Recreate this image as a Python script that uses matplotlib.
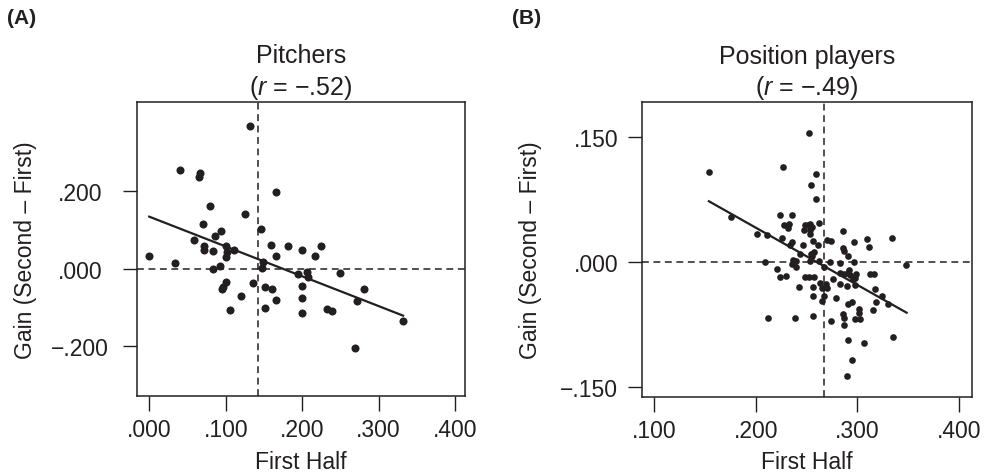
import matplotlib
matplotlib.use("Agg")
import matplotlib.pyplot as plt

plt.rcParams['font.family'] = ['Liberation Sans', 'DejaVu Sans']
plt.rcParams['mathtext.fontset'] = 'custom'
plt.rcParams['mathtext.it'] = 'Liberation Sans:italic'
plt.rcParams['mathtext.rm'] = 'Liberation Sans'

INK = '#231f20'

# ---- Panel A: Pitchers ----
pitch_first = [0.132,0.040,0.067,0.065,0.166,0.079,0.125,0.070,0.146,0.094,
               0.086,0.059,0.071,0.071,0.083,0.100,0.102,0.100,0.111,0.000,
               0.034,0.083,0.092,0.149,0.148,0.159,0.182,0.200,0.166,0.225,
               0.217,0.194,0.206,0.208,0.249,0.100,0.097,0.095,0.136,0.152,
               0.161,0.200,0.281,0.120,0.166,0.200,0.272,0.105,0.152,0.200,
               0.232,0.239,0.332,0.269]
pitch_gain = [0.370,0.255,0.248,0.237,0.198,0.162,0.143,0.115,0.103,0.098,
              0.086,0.075,0.060,0.050,0.046,0.058,0.043,0.030,0.049,0.034,
              0.016,0.000,0.007,0.017,0.002,0.062,0.059,0.050,0.034,0.060,
              0.033,-0.012,-0.007,-0.022,-0.010,-0.033,-0.047,-0.052,-0.035,-0.046,
              -0.051,-0.043,-0.052,-0.071,-0.080,-0.076,-0.082,-0.105,-0.102,-0.114,
              -0.103,-0.108,-0.134,-0.204]
pitch_fit_x = [0.000, 0.332]
pitch_fit_y = [0.135, -0.1205]
pitch_mean_x = 0.1425
pitch_xticks = [0.0, 0.1, 0.2, 0.3, 0.4]
pitch_xlabels = ['.000', '.100', '.200', '.300', '.400']
pitch_yticks = [-0.2, 0.0, 0.2]
pitch_ylabels = ['\u2212.200', '.000', '.200']

# ---- Panel B: Position players ----
pos_first = [0.252,0.154,0.227,0.259,0.254,0.259,0.176,0.224,0.236,0.228,
             0.233,0.232,0.249,0.251,0.253,0.255,0.248,0.253,0.253,0.262,
             0.201,0.211,0.226,0.236,0.234,0.247,0.256,0.261,0.270,0.274,
             0.286,0.310,0.297,0.311,0.334,0.286,0.287,0.291,0.244,0.254,
             0.257,0.255,0.209,0.237,0.240,0.236,0.240,0.253,0.262,0.267,
             0.273,0.283,0.297,0.348,0.221,0.224,0.230,0.249,0.252,0.257,
             0.263,0.269,0.265,0.270,0.276,0.283,0.287,0.292,0.291,0.293,
             0.299,0.298,0.296,0.312,0.316,0.283,0.290,0.298,0.243,0.256,
             0.317,0.324,0.318,0.330,0.256,0.267,0.265,0.279,0.291,0.295,
             0.302,0.302,0.315,0.212,0.239,0.256,0.274,0.286,0.287,0.287,
             0.298,0.303,0.335,0.291,0.307,0.295,0.290]
pos_gain = [0.155,0.108,0.114,0.106,0.093,0.076,0.054,0.057,0.057,0.044,
            0.046,0.041,0.044,0.045,0.046,0.042,0.039,0.039,0.034,0.047,
            0.034,0.033,0.029,0.024,0.020,0.020,0.025,0.021,0.026,0.025,
            0.037,0.028,0.024,0.018,0.029,0.017,0.013,0.007,0.010,0.010,
            0.012,0.007,0.000,0.002,0.001,-0.003,-0.006,0.001,0.001,-0.006,
            0.000,-0.001,0.000,-0.004,-0.009,-0.018,-0.017,-0.018,-0.018,-0.018,
            -0.025,-0.026,-0.031,-0.031,-0.021,-0.013,-0.014,-0.010,-0.013,-0.016,
            -0.014,-0.019,-0.021,-0.014,-0.014,-0.027,-0.029,-0.028,-0.030,-0.030,
            -0.033,-0.041,-0.048,-0.050,-0.041,-0.041,-0.047,-0.043,-0.050,-0.048,
            -0.056,-0.061,-0.058,-0.067,-0.067,-0.065,-0.071,-0.063,-0.067,-0.076,
            -0.069,-0.069,-0.090,-0.094,-0.098,-0.118,-0.137]
pos_fit_x = [0.154, 0.3485]
pos_fit_y = [0.073, -0.061]
pos_mean_x = 0.267
pos_xticks = [0.1, 0.2, 0.3, 0.4]
pos_xlabels = ['.100', '.200', '.300', '.400']
pos_yticks = [-0.15, 0.0, 0.15]
pos_ylabels = ['\u2212.150', '.000', '.150']

fig = plt.figure(figsize=(9.9, 4.77), dpi=100)
axA = fig.add_axes([137/990, 1-397/477, 328/990, 294/477])
axB = fig.add_axes([641.7/990, 1-397.7/477, 330/990, 294.4/477])

def style(ax, xt, xl, yt, yl, xlim, ylim, ypad, yha):
    ax.set_xlim(*xlim)
    ax.set_ylim(*ylim)
    ax.set_xticks(xt)
    ax.set_xticklabels(xl)
    ax.set_yticks(yt)
    ax.set_yticklabels(yl)
    for s in ax.spines.values():
        s.set_linewidth(1.1)
        s.set_color(INK)
    ax.tick_params(axis='x', direction='out', length=11, width=1.0,
                   pad=5, labelsize=16.5, colors=INK)
    ax.tick_params(axis='y', direction='out', length=10, width=1.0,
                   pad=ypad, labelsize=16.5, colors=INK)
    for lab in ax.get_yticklabels():
        lab.set_ha(yha)
    ax.set_xlabel('First Half', fontsize=16.5, color=INK, labelpad=6)
    ax.set_ylabel('Gain (Second \u2013 First)', fontsize=16.5, color=INK)

# Panel A
axA.axhline(0, color=INK, lw=1.1, ls=(0, (4.5, 3)))
axA.axvline(pitch_mean_x, color=INK, lw=1.1, ls=(0, (4.5, 3)))
axA.plot(pitch_first, pitch_gain, 'o', ms=5.8, color=INK, mec='none')
axA.plot(pitch_fit_x, pitch_fit_y, '-', color=INK, lw=1.6)
style(axA, pitch_xticks, pitch_xlabels, pitch_yticks, pitch_ylabels,
      (-0.016, 0.413), (-0.328, 0.431), 31, 'center')
axA.yaxis.set_label_coords(-0.305, 0.5)
axA.set_title('Pitchers\n($\\mathit{r}$ = \u2212.52)', fontsize=18, color=INK,
              linespacing=1.25, pad=6)

# Panel B
axB.axhline(0, color=INK, lw=1.1, ls=(0, (4.5, 3)))
axB.axvline(pos_mean_x, color=INK, lw=1.1, ls=(0, (4.5, 3)))
axB.plot(pos_first, pos_gain, 'o', ms=4.8, color=INK, mec='none')
axB.plot(pos_fit_x, pos_fit_y, '-', color=INK, lw=1.6)
style(axB, pos_xticks, pos_xlabels, pos_yticks, pos_ylabels,
      (0.0879, 0.4125), (-0.162, 0.192), 7, 'right')
axB.yaxis.set_label_coords(-0.302, 0.5)
axB.set_title('Position players\n($\\mathit{r}$ = \u2212.49)', fontsize=18, color=INK,
              linespacing=1.25, pad=6)

fig.text(7/990, 1-19/477, '(A)', fontsize=15, fontweight='bold', color=INK,
         ha='left', va='center')
fig.text(512/990, 1-19/477, '(B)', fontsize=15, fontweight='bold', color=INK,
         ha='left', va='center')

fig.savefig('out.png', dpi=100)
